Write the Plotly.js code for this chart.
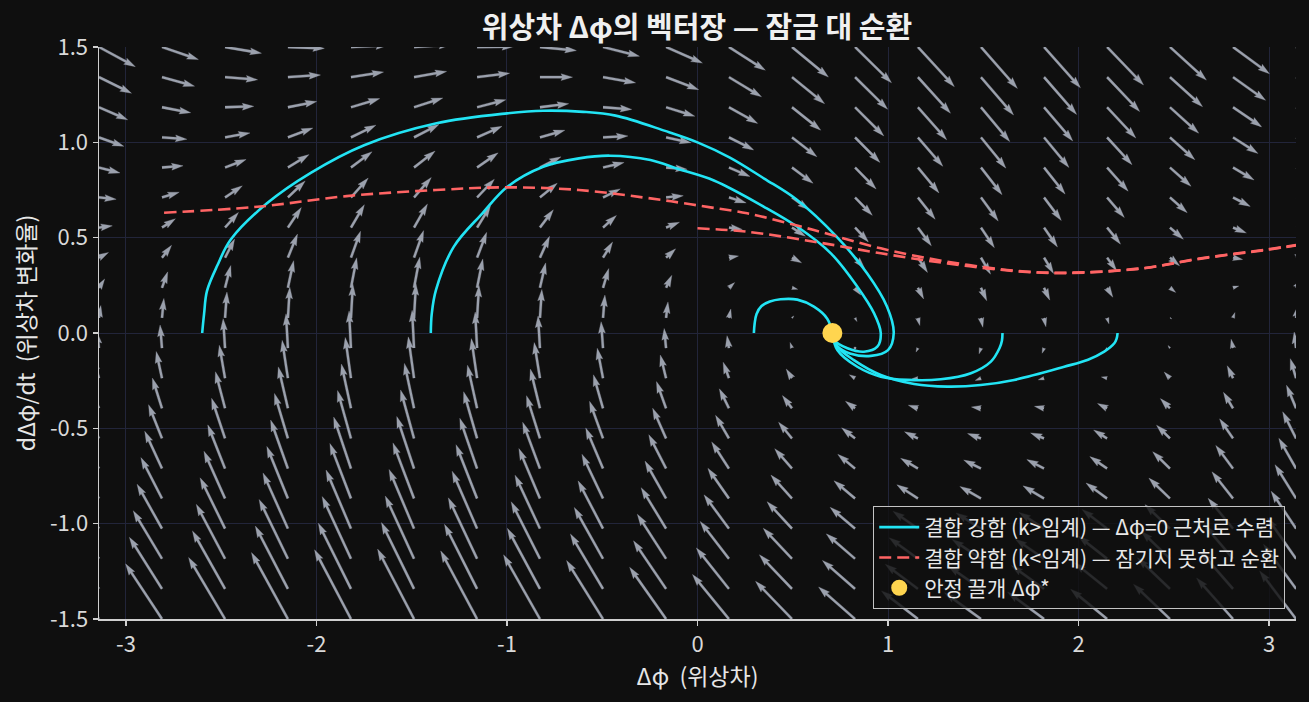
<!DOCTYPE html>
<html><head><meta charset="utf-8">
<script src="https://cdn.plot.ly/plotly-3.0.1.min.js"></script>
<style>html,body{margin:0;padding:0;background:#0f0f0f;}#chart{width:1309px;height:702px;}</style>
</head><body><div id="chart"></div>
<script>
// ---- vector field grid (20 x 20) ----
const gridX = [-3.142,-2.811,-2.480,-2.150,-1.819,-1.488,-1.157,-0.827,-0.496,-0.165,
               0.165,0.496,0.827,1.157,1.488,1.819,2.150,2.480,2.811,3.142];
const gridY = [-1.500,-1.342,-1.184,-1.026,-0.868,-0.711,-0.553,-0.395,-0.237,-0.079,
               0.079,0.237,0.395,0.553,0.711,0.868,1.026,1.184,1.342,1.500];
// horizontal arrow component per row (dΔφ/dt)
const fieldUByRow = [-1.500,-1.342,-1.184,-1.026,-0.868,-0.711,-0.553,-0.395,-0.237,-0.079,
               0.079,0.237,0.395,0.553,0.711,0.868,1.026,1.184,1.342,1.500];
// vertical arrow component: coupling/detuning part per column
const fieldVByCol = [0.585,0.877,1.138,1.338,1.457,1.482,1.409,1.247,1.013,0.733,
               0.437,0.157,-0.077,-0.239,-0.312,-0.287,-0.168,0.032,0.293,0.585];
// vertical arrow component: damping part per row
const fieldVByRow = [1.395,1.248,1.101,0.954,0.807,0.661,0.514,0.367,0.220,0.073,
               -0.073,-0.220,-0.367,-0.514,-0.661,-0.807,-0.954,-1.101,-1.248,-1.395];

// ---- strong-coupling trajectories ----
const traj1X = [-2.60,-2.59,-2.575,-2.52,-2.45,-2.26,-2.03,-1.75,-1.37,-1.0,-0.81,-0.6,-0.43,-0.17,0.0,0.17,0.35,0.52,0.73,0.89,0.995,1.03,1.0,0.91,0.80,0.735,0.708];
const traj1Y = [0,0.1,0.22,0.355,0.49,0.68,0.84,0.985,1.10,1.152,1.166,1.16,1.14,1.06,1.0,0.92,0.81,0.70,0.505,0.313,0.138,0.0,-0.09,-0.12,-0.107,-0.07,0];
const traj2X = [-1.40,-1.395,-1.373,-1.279,-1.129,-0.998,-0.81,-0.622,-0.46,-0.247,-0.1,0.086,0.349,0.524,0.70,0.839,0.927,0.962,0.944,0.874,0.787,0.716,0.708];
const traj2Y = [0,0.1,0.225,0.453,0.628,0.767,0.872,0.916,0.93,0.907,0.86,0.80,0.662,0.557,0.418,0.243,0.103,0,-0.072,-0.098,-0.08,-0.037,0];
const traj3X = [0.296,0.300,0.31,0.335,0.38,0.436,0.524,0.611,0.681,0.708];
const traj3Y = [0,0.05,0.10,0.14,0.165,0.177,0.175,0.138,0.075,0];
const traj4X = [1.601,1.598,1.585,1.54,1.435,1.277,1.102,0.962,0.839,0.734,0.708];
const traj4Y = [0,-0.04,-0.08,-0.15,-0.211,-0.243,-0.246,-0.229,-0.177,-0.089,0];
const traj5X = [2.205,2.2,2.188,2.135,2.05,1.925,1.662,1.487,1.312,1.137,0.962,0.821,0.734,0.708];
const traj5Y = [0,-0.03,-0.054,-0.098,-0.14,-0.177,-0.246,-0.273,-0.281,-0.267,-0.22,-0.142,-0.072,0];

// ---- weak-coupling trajectory (two wrapped passes) ----
const weakAX = [-2.80,-2.31,-1.842,-1.373,-0.998,-0.622,-0.247,-0.089,0.068,0.261,0.611,0.962,1.312,1.662,1.925,2.328,2.643,2.994,3.142];
const weakAY = [0.631,0.662,0.718,0.75,0.764,0.75,0.706,0.683,0.659,0.628,0.54,0.444,0.374,0.327,0.316,0.339,0.392,0.439,0.461];
const weakBX = [0.0,0.261,0.611,0.962,1.312,1.662,1.925,2.328,2.643,2.994,3.142];
const weakBY = [0.549,0.531,0.479,0.418,0.365,0.325,0.314,0.338,0.390,0.437,0.459];

// ---- stable fixed point ----
const fixedX = [0.708];
const fixedY = [0];

// ---- ticks ----
const xTickVals = [-3,-2,-1,0,1,2,3];
const xTickText = ['-3','-2','-1','0','1','2','3'];
const yTickVals = [-1.5,-1.0,-0.5,0,0.5,1.0,1.5];
const yTickText = ['-1.5','-1.0','-0.5','0.0','0.5','1.0','1.5'];

// ---- layout geometry ----
const W = 1309, H = 702;
const M = {l: 99, r: 13, t: 47, b: 83};
const xRange = [-3.1416, 3.1416];
const yRange = [-1.5, 1.5];
const pxPerX = (W - M.l - M.r) / (xRange[1] - xRange[0]);
const pxPerY = (H - M.t - M.b) / (yRange[1] - yRange[0]);
const quiverScale = 24.3;   // px per unit of vector
const shaftW = 2.3;         // px

function joinSegments(xs, ys) {
  const X = [], Y = [];
  xs.forEach((arr, k) => { if (k) { X.push(null); Y.push(null); } X.push(...arr); Y.push(...ys[k]); });
  return {X, Y};
}

// build quiver polygons (matplotlib-like arrow shape)
const qx = [], qy = [];
for (let j = 0; j < gridY.length; j++) {
  for (let i = 0; i < gridX.length; i++) {
    const u = fieldUByRow[j], v = fieldVByCol[i] + fieldVByRow[j];
    const mag = Math.hypot(u, v);
    const L = mag * quiverScale;
    const x0 = gridX[i], y0 = gridY[j];
    const w = shaftW, hw = w / 2;
    if (L < w * 0.9) {
      for (let a = 0; a < 6; a++) {
        const t = a * Math.PI / 3;
        qx.push(x0 + 1.3 * Math.cos(t) / pxPerX); qy.push(y0 + 1.3 * Math.sin(t) / pxPerY);
      }
      qx.push(null); qy.push(null);
      continue;
    }
    const HL = 5 * w, HAL = 4.5 * w, HWd = 1.5 * w;
    let Ls = L, f = 1;
    if (L < HL) { Ls = HL; f = L / HL; }
    const local = [[0,-hw],[Ls-HAL,-hw],[Ls-HL,-HWd],[Ls,0],[Ls-HL,HWd],[Ls-HAL,hw],[0,hw]];
    const ux = u / mag, uy = v / mag;
    local.forEach(([a, p]) => {
      a *= f; p *= f;
      const dx = a * ux - p * uy, dy = a * uy + p * ux;
      qx.push(x0 + dx / pxPerX); qy.push(y0 + dy / pxPerY);
    });
    qx.push(null); qy.push(null);
  }
}

const strong = joinSegments([traj1X,traj2X,traj3X,traj4X,traj5X],[traj1Y,traj2Y,traj3Y,traj4Y,traj5Y]);
const weak = joinSegments([weakAX,weakBX],[weakAY,weakBY]);

const FONT = '"Noto Sans CJK KR", "Noto Sans", sans-serif';
const traces = [
  {x: qx, y: qy, type: 'scatter', mode: 'lines', fill: 'toself', fillcolor: '#9ba1ad',
   line: {color: '#9ba1ad', width: 0.3}, hoverinfo: 'skip', showlegend: false},
  {x: strong.X, y: strong.Y, type: 'scatter', mode: 'lines', name: '결합 강함 (k>임계) — Δφ=0 근처로 수렴',
   line: {color: '#22e4f4', width: 2.6, shape: 'spline', smoothing: 1}},
  {x: weak.X, y: weak.Y, type: 'scatter', mode: 'lines', name: '결합 약함 (k<임계) — 잠기지 못하고 순환',
   line: {color: '#ff6464', width: 2.6, dash: '12px,6px', shape: 'spline', smoothing: 1}},
  {x: fixedX, y: fixedY, type: 'scatter', mode: 'markers', name: '안정 끌개 Δφ*',
   marker: {color: '#ffd54f', size: 20}, cliponaxis: false}
];

const axisCommon = {
  showline: true, linecolor: '#cfcfcf', linewidth: 1.5, mirror: false,
  ticks: 'outside', ticklen: 5, tickwidth: 1.3, tickcolor: '#cfcfcf',
  gridcolor: '#22253a', gridwidth: 1, zeroline: false,
  tickfont: {family: FONT, size: 22, color: '#d9d9d9'}
};

const layout = {
  width: W, height: H, margin: M,
  paper_bgcolor: '#0f0f0f', plot_bgcolor: '#0f0f0f',
  font: {family: FONT, color: '#e6e6e6'},
  title: {text: '<b>위상차 Δφ의 벡터장 — 잠금 대 순환</b>', x: 0.5325, xanchor: 'center', y: 0.96, yanchor: 'middle',
          font: {family: FONT, size: 29, color: '#f0f0f0'}},
  xaxis: Object.assign({}, axisCommon, {range: xRange, tickmode: 'array', tickvals: xTickVals, ticktext: xTickText,
          title: {text: 'Δφ  (위상차)', font: {family: FONT, size: 23, color: '#e6e6e6'}, standoff: 6}}),
  yaxis: Object.assign({}, axisCommon, {range: yRange, tickmode: 'array', tickvals: yTickVals, ticktext: yTickText,
          title: {text: 'dΔφ/dt  (위상차 변화율)', font: {family: FONT, size: 23, color: '#e6e6e6'}, standoff: 8}}),
  showlegend: true,
  legend: {x: 0.991, xanchor: 'right', y: 0.0175, yanchor: 'bottom', bgcolor: 'rgba(16,16,16,0.82)',
           bordercolor: '#c4c4c4', borderwidth: 1, itemwidth: 40,
           font: {family: FONT, size: 21, color: '#e8e8e8'}}
};

Plotly.newPlot('chart', traces, layout, {displayModeBar: false, staticPlot: true});
</script></body></html>
